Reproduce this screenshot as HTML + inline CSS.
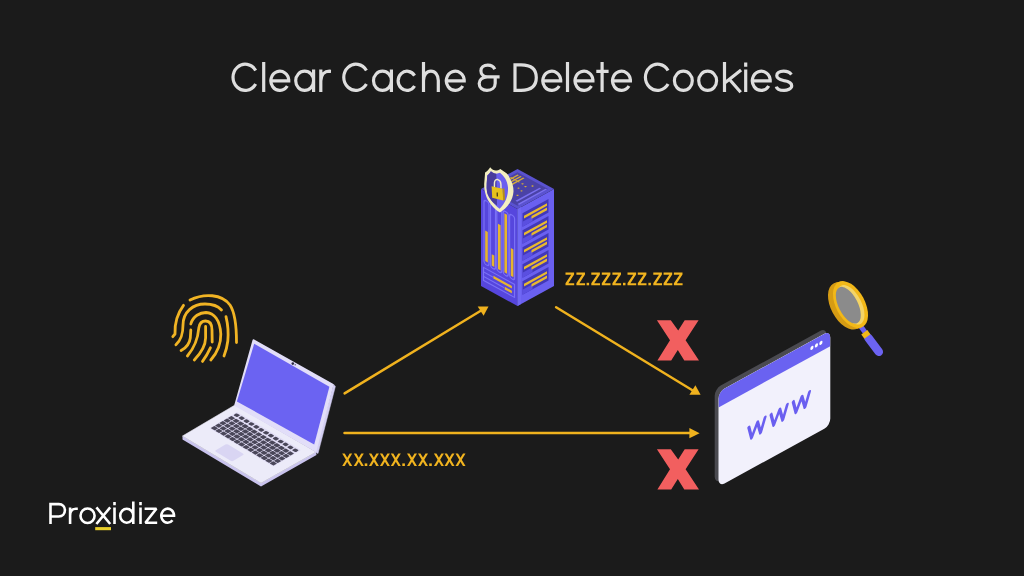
<!DOCTYPE html>
<html><head><meta charset="utf-8">
<style>
html,body{margin:0;padding:0;background:#1b1b1b;width:1024px;height:576px;overflow:hidden}
svg{position:absolute;left:0;top:0;display:block}
text{font-family:"Liberation Sans",sans-serif}
</style></head><body>
<svg width="1024" height="576" viewBox="0 0 1024 576">
<rect x="0" y="0" width="1024" height="576" fill="#1b1b1b"/>

<!-- Title -->
<path d="M255.66,84.05 A12.2,13.1 0 1 1 255.66,70.55 M263.70,62.00 L263.70,92.00 M270.85,80.8 L290.35,80.8 M287.31,86.03 A8.95,9.6 0 1 1 288.75,80.80 M313.60,80.8 A8.95,9.6 0 1 1 295.70,80.8 A8.95,9.6 0 1 1 313.60,80.8 M313.60,69.60 L313.60,92.00 M320.80,69.60 L320.80,92.00 M320.80,81.00 C321.10,74.5 324.80,71.2 329.30,71.2 L331.00,71.3 M366.41,84.05 A12.2,13.1 0 1 1 366.41,70.55 M391.40,80.8 A8.95,9.6 0 1 1 373.50,80.8 A8.95,9.6 0 1 1 391.40,80.8 M391.40,69.60 L391.40,92.00 M414.56,86.03 A8.95,9.6 0 1 1 414.56,75.57 M423.50,62.00 L423.50,92.00 M423.50,80.5 C423.50,74.8 426.70,71.2 430.90,71.2 C435.10,71.2 438.30,74.8 438.30,80.5 L438.30,92.0 M446.30,80.8 L465.80,80.8 M462.76,86.03 A8.95,9.6 0 1 1 464.20,80.80 M494.8,69.2 C493.5,66.5 490.8,65.2 487.8,65.2 C483.6,65.2 480.9,67.6 480.9,70.8 C480.9,74.2 483.6,76.8 487.2,76.8 L499.6,76.8 M487.2,76.8 C482.2,76.8 479.2,80.2 479.2,83.6 C479.2,87.6 482.4,90.3 487,90.3 C491.8,90.3 495.2,87.4 495.2,83.2 L495.2,75.2 M515.00,63.2 L515.00,92.0 M513.40,64.8 L521.00,64.8 C532.30,64.8 536.30,70.5 536.30,77.6 C536.30,84.7 532.30,90.4 521.00,90.4 L513.40,90.4 M542.80,80.8 L562.30,80.8 M559.26,86.03 A8.95,9.6 0 1 1 560.70,80.80 M567.50,62.00 L567.50,92.00 M575.00,80.8 L594.50,80.8 M591.46,86.03 A8.95,9.6 0 1 1 592.90,80.80 M602.10,62.00 L602.10,92.00 M596.30,71.4 L608.60,71.4 M612.50,80.8 L632.00,80.8 M628.96,86.03 A8.95,9.6 0 1 1 630.40,80.80 M668.06,84.05 A12.2,13.1 0 1 1 668.06,70.55 M692.30,80.8 A8.95,9.6 0 1 1 674.40,80.8 A8.95,9.6 0 1 1 692.30,80.8 M716.60,80.8 A8.95,9.6 0 1 1 698.70,80.8 A8.95,9.6 0 1 1 716.60,80.8 M724.50,62.00 L724.50,92.00 M725.00,82.8 L741.10,70.0 M729.10,79.0 L740.70,92.2 M745.70,69.60 L745.70,92.00 M745.70,62.6 L745.70,66.8 M752.30,80.8 L771.80,80.8 M768.76,86.03 A8.95,9.6 0 1 1 770.20,80.80 M791.40,74.6 C789.70,72.2 785.60,71.2 783.60,71.2 C779.00,71.2 776.60,73.2 776.80,75.8 C777.00,79 781.00,79.8 784.10,80.6 C789.20,81.4 791.80,82.8 791.70,86 C791.60,88.8 787.10,90.4 784.10,90.4 C779.00,90.4 776.80,88.8 776.30,86.6" fill="none" stroke="#dedede" stroke-width="3.2" stroke-linecap="butt"/>

<!-- Arrows -->
<g stroke="#f0b21e" stroke-width="2.5" fill="none" stroke-linecap="round">
  <line x1="344.6" y1="393.4" x2="482" y2="310"/>
  <line x1="556.1" y1="307.2" x2="692" y2="390"/>
  <line x1="344.5" y1="433" x2="690" y2="433"/>
</g>
<g fill="#f0b21e">
  <polygon points="477.7,306.5 488.5,306.5 483.6,315.8"/>
  <polygon points="689.4,394.7 700.6,394.7 695.4,385.3"/>
  <polygon points="689.4,428 689.4,438.3 699.6,433.2"/>
</g>

<!-- IP texts -->
<g fill="#f1b41f">
<polygon points="565.50,272.40 574.10,272.40 574.10,274.55 568.40,283.15 574.20,283.15 574.20,285.30 565.50,285.30 565.50,283.25 571.20,274.65 565.50,274.65"/>
<polygon points="576.40,272.40 585.00,272.40 585.00,274.55 579.30,283.15 585.10,283.15 585.10,285.30 576.40,285.30 576.40,283.25 582.10,274.65 576.40,274.65"/>
<polygon points="591.30,272.40 599.90,272.40 599.90,274.55 594.20,283.15 600.00,283.15 600.00,285.30 591.30,285.30 591.30,283.25 597.00,274.65 591.30,274.65"/>
<polygon points="601.80,272.40 610.40,272.40 610.40,274.55 604.70,283.15 610.50,283.15 610.50,285.30 601.80,285.30 601.80,283.25 607.50,274.65 601.80,274.65"/>
<polygon points="612.40,272.40 621.00,272.40 621.00,274.55 615.30,283.15 621.10,283.15 621.10,285.30 612.40,285.30 612.40,283.25 618.10,274.65 612.40,274.65"/>
<polygon points="627.50,272.40 636.10,272.40 636.10,274.55 630.40,283.15 636.20,283.15 636.20,285.30 627.50,285.30 627.50,283.25 633.20,274.65 627.50,274.65"/>
<polygon points="637.80,272.40 646.40,272.40 646.40,274.55 640.70,283.15 646.50,283.15 646.50,285.30 637.80,285.30 637.80,283.25 643.50,274.65 637.80,274.65"/>
<polygon points="653.30,272.40 661.90,272.40 661.90,274.55 656.20,283.15 662.00,283.15 662.00,285.30 653.30,285.30 653.30,283.25 659.00,274.65 653.30,274.65"/>
<polygon points="663.60,272.40 672.20,272.40 672.20,274.55 666.50,283.15 672.30,283.15 672.30,285.30 663.60,285.30 663.60,283.25 669.30,274.65 663.60,274.65"/>
<polygon points="673.90,272.40 682.50,272.40 682.50,274.55 676.80,283.15 682.60,283.15 682.60,285.30 673.90,285.30 673.90,283.25 679.60,274.65 673.90,274.65"/>
<rect x="586.60" y="282.80" width="2.5" height="2.5"/>
<rect x="623.00" y="282.80" width="2.5" height="2.5"/>
<rect x="648.40" y="282.80" width="2.5" height="2.5"/>
<polygon points="342.20,453.50 344.70,453.50 352.20,466.00 349.70,466.00"/><polygon points="349.70,453.50 352.20,453.50 344.70,466.00 342.20,466.00"/>
<polygon points="353.80,453.50 356.30,453.50 363.80,466.00 361.30,466.00"/><polygon points="361.30,453.50 363.80,453.50 356.30,466.00 353.80,466.00"/>
<polygon points="368.90,453.50 371.40,453.50 378.90,466.00 376.40,466.00"/><polygon points="376.40,453.50 378.90,453.50 371.40,466.00 368.90,466.00"/>
<polygon points="379.90,453.50 382.40,453.50 389.90,466.00 387.40,466.00"/><polygon points="387.40,453.50 389.90,453.50 382.40,466.00 379.90,466.00"/>
<polygon points="390.80,453.50 393.30,453.50 400.80,466.00 398.30,466.00"/><polygon points="398.30,453.50 400.80,453.50 393.30,466.00 390.80,466.00"/>
<polygon points="407.00,453.50 409.50,453.50 417.00,466.00 414.50,466.00"/><polygon points="414.50,453.50 417.00,453.50 409.50,466.00 407.00,466.00"/>
<polygon points="418.00,453.50 420.50,453.50 428.00,466.00 425.50,466.00"/><polygon points="425.50,453.50 428.00,453.50 420.50,466.00 418.00,466.00"/>
<polygon points="433.90,453.50 436.40,453.50 443.90,466.00 441.40,466.00"/><polygon points="441.40,453.50 443.90,453.50 436.40,466.00 433.90,466.00"/>
<polygon points="444.50,453.50 447.00,453.50 454.50,466.00 452.00,466.00"/><polygon points="452.00,453.50 454.50,453.50 447.00,466.00 444.50,466.00"/>
<polygon points="455.50,453.50 458.00,453.50 465.50,466.00 463.00,466.00"/><polygon points="463.00,453.50 465.50,453.50 458.00,466.00 455.50,466.00"/>
<rect x="364.70" y="463.40" width="2.6" height="2.6"/>
<rect x="402.30" y="463.40" width="2.6" height="2.6"/>
<rect x="429.20" y="463.40" width="2.6" height="2.6"/>
</g>

<!-- Red X marks -->
<g fill="#f25f5f">
  <polygon points="656.9,320.2 670.8,320.2 678.2,330.6 684.7,320.2 698.6,320.2 685.6,340.2 699,360.5 684.3,360.5 677.8,350.1 671.2,360.5 657.4,360.5 670,340.2"/>
  <polygon transform="translate(0,129)" points="656.9,320.2 670.8,320.2 678.2,330.6 684.7,320.2 698.6,320.2 685.6,340.2 699,360.5 684.3,360.5 677.8,350.1 671.2,360.5 657.4,360.5 670,340.2"/>
</g>

<!-- Fingerprint -->
<g stroke="#f1b424" stroke-width="2.8" fill="none" stroke-linecap="round" stroke-linejoin="round">
  <path d="M190,300 C204,293 222,294 230,305 C236,314 236.5,330 236.5,342.5"/>
  <path d="M183.5,305.3 C177,314 174.5,323 175,334 L172.8,336.7"/>
  <path d="M175.9,344.7 C181,340 183,335 183,325 C183,312 193,304 205,304 C212,304 218,306 221.5,310"/>
  <path d="M190.8,324 C193,316 200,312.5 206,312.5 C214,313 220,320 220.8,334 C221,344 217,353 210.8,360"/>
  <path d="M187.4,356 C195,347 198,338 198.8,328 C199.5,323 202,321 205.6,321 C210,321 212,324 212,330 L212.2,342"/>
  <path d="M205.6,326.5 L205.6,338 C205.5,346 201,353 194.3,360"/>
  <path d="M226,316.7 C228,325 228.5,334 227.8,341 C227,348 225.5,352 224,356"/>
  <path d="M190.8,330 L190.3,338 C189.5,344 186,348 181.1,350.6"/>
  <path d="M210.4,347.8 C208,353 205,358 202.5,361.4"/>
</g>

<!-- Laptop -->
<g>
  <!-- base side thickness -->
  <polygon points="182.5,436 261,483 316,452 316.5,455 261,486.5 182.5,439.5" fill="#c9c3ee"/>
  <!-- base top -->
  <polygon points="182.5,436 235,405 316,452 261,483" fill="#ecebf9" stroke="#ecebf9" stroke-width="0.6" stroke-linejoin="round"/>
  <g transform="matrix(0.98125,0.5875,0.875,-0.51667,182.5,436)">
    <rect x="6.9" y="23" width="65.2" height="31.5" rx="1" fill="#e1ddf5"/>
    <g fill="#4a4759">
      <rect x="7.50" y="23.85" width="4.01" height="4.16" rx="0.6"/>
      <rect x="12.11" y="23.85" width="4.01" height="4.16" rx="0.6"/>
      <rect x="16.73" y="23.85" width="4.01" height="4.16" rx="0.6"/>
      <rect x="21.34" y="23.85" width="4.01" height="4.16" rx="0.6"/>
      <rect x="25.96" y="23.85" width="4.01" height="4.16" rx="0.6"/>
      <rect x="30.57" y="23.85" width="4.01" height="4.16" rx="0.6"/>
      <rect x="35.19" y="23.85" width="4.01" height="4.16" rx="0.6"/>
      <rect x="39.80" y="23.85" width="4.01" height="4.16" rx="0.6"/>
      <rect x="44.41" y="23.85" width="4.01" height="4.16" rx="0.6"/>
      <rect x="49.03" y="23.85" width="4.01" height="4.16" rx="0.6"/>
      <rect x="53.64" y="23.85" width="4.01" height="4.16" rx="0.6"/>
      <rect x="58.26" y="23.85" width="4.01" height="4.16" rx="0.6"/>
      <rect x="62.87" y="23.85" width="4.01" height="4.16" rx="0.6"/>
      <rect x="67.49" y="23.85" width="4.01" height="4.16" rx="0.6"/>
      <rect x="7.50" y="28.71" width="4.01" height="4.16" rx="0.6"/>
      <rect x="12.11" y="28.71" width="4.01" height="4.16" rx="0.6"/>
      <rect x="16.73" y="28.71" width="4.01" height="4.16" rx="0.6"/>
      <rect x="21.34" y="28.71" width="4.01" height="4.16" rx="0.6"/>
      <rect x="25.96" y="28.71" width="4.01" height="4.16" rx="0.6"/>
      <rect x="30.57" y="28.71" width="4.01" height="4.16" rx="0.6"/>
      <rect x="35.19" y="28.71" width="4.01" height="4.16" rx="0.6"/>
      <rect x="39.80" y="28.71" width="4.01" height="4.16" rx="0.6"/>
      <rect x="44.41" y="28.71" width="4.01" height="4.16" rx="0.6"/>
      <rect x="49.03" y="28.71" width="4.01" height="4.16" rx="0.6"/>
      <rect x="53.64" y="28.71" width="4.01" height="4.16" rx="0.6"/>
      <rect x="58.26" y="28.71" width="4.01" height="4.16" rx="0.6"/>
      <rect x="62.87" y="28.71" width="4.01" height="4.16" rx="0.6"/>
      <rect x="67.49" y="28.71" width="4.01" height="4.16" rx="0.6"/>
      <rect x="7.50" y="33.57" width="4.01" height="4.16" rx="0.6"/>
      <rect x="12.11" y="33.57" width="4.01" height="4.16" rx="0.6"/>
      <rect x="16.73" y="33.57" width="4.01" height="4.16" rx="0.6"/>
      <rect x="21.34" y="33.57" width="4.01" height="4.16" rx="0.6"/>
      <rect x="25.96" y="33.57" width="4.01" height="4.16" rx="0.6"/>
      <rect x="30.57" y="33.57" width="4.01" height="4.16" rx="0.6"/>
      <rect x="35.19" y="33.57" width="4.01" height="4.16" rx="0.6"/>
      <rect x="39.80" y="33.57" width="4.01" height="4.16" rx="0.6"/>
      <rect x="44.41" y="33.57" width="4.01" height="4.16" rx="0.6"/>
      <rect x="49.03" y="33.57" width="4.01" height="4.16" rx="0.6"/>
      <rect x="53.64" y="33.57" width="4.01" height="4.16" rx="0.6"/>
      <rect x="58.26" y="33.57" width="4.01" height="4.16" rx="0.6"/>
      <rect x="62.87" y="33.57" width="4.01" height="4.16" rx="0.6"/>
      <rect x="67.49" y="33.57" width="4.01" height="4.16" rx="0.6"/>
      <rect x="7.50" y="38.43" width="4.01" height="4.16" rx="0.6"/>
      <rect x="12.11" y="38.43" width="4.01" height="4.16" rx="0.6"/>
      <rect x="16.73" y="38.43" width="4.01" height="4.16" rx="0.6"/>
      <rect x="21.34" y="38.43" width="4.01" height="4.16" rx="0.6"/>
      <rect x="25.96" y="38.43" width="4.01" height="4.16" rx="0.6"/>
      <rect x="30.57" y="38.43" width="4.01" height="4.16" rx="0.6"/>
      <rect x="35.19" y="38.43" width="4.01" height="4.16" rx="0.6"/>
      <rect x="39.80" y="38.43" width="4.01" height="4.16" rx="0.6"/>
      <rect x="44.41" y="38.43" width="4.01" height="4.16" rx="0.6"/>
      <rect x="49.03" y="38.43" width="4.01" height="4.16" rx="0.6"/>
      <rect x="53.64" y="38.43" width="4.01" height="4.16" rx="0.6"/>
      <rect x="58.26" y="38.43" width="4.01" height="4.16" rx="0.6"/>
      <rect x="62.87" y="38.43" width="4.01" height="4.16" rx="0.6"/>
      <rect x="67.49" y="38.43" width="4.01" height="4.16" rx="0.6"/>
      <rect x="7.50" y="43.29" width="4.01" height="4.16" rx="0.6"/>
      <rect x="12.11" y="43.29" width="4.01" height="4.16" rx="0.6"/>
      <rect x="16.73" y="43.29" width="4.01" height="4.16" rx="0.6"/>
      <rect x="21.34" y="43.29" width="4.01" height="4.16" rx="0.6"/>
      <rect x="25.96" y="43.29" width="4.01" height="4.16" rx="0.6"/>
      <rect x="30.57" y="43.29" width="4.01" height="4.16" rx="0.6"/>
      <rect x="35.19" y="43.29" width="4.01" height="4.16" rx="0.6"/>
      <rect x="39.80" y="43.29" width="4.01" height="4.16" rx="0.6"/>
      <rect x="44.41" y="43.29" width="4.01" height="4.16" rx="0.6"/>
      <rect x="49.03" y="43.29" width="4.01" height="4.16" rx="0.6"/>
      <rect x="53.64" y="43.29" width="4.01" height="4.16" rx="0.6"/>
      <rect x="58.26" y="43.29" width="4.01" height="4.16" rx="0.6"/>
      <rect x="62.87" y="43.29" width="4.01" height="4.16" rx="0.6"/>
      <rect x="67.49" y="43.29" width="4.01" height="4.16" rx="0.6"/>
      <rect x="7.80" y="49.3" width="3.77" height="3.8" rx="0.9"/>
      <rect x="12.77" y="49.3" width="3.77" height="3.8" rx="0.9"/>
      <rect x="17.74" y="49.3" width="3.77" height="3.8" rx="0.9"/>
      <rect x="22.71" y="49.3" width="3.77" height="3.8" rx="0.9"/>
      <rect x="27.68" y="49.3" width="3.77" height="3.8" rx="0.9"/>
      <rect x="32.65" y="49.3" width="3.77" height="3.8" rx="0.9"/>
      <rect x="37.62" y="49.3" width="3.77" height="3.8" rx="0.9"/>
      <rect x="42.58" y="49.3" width="3.77" height="3.8" rx="0.9"/>
      <rect x="47.55" y="49.3" width="3.77" height="3.8" rx="0.9"/>
      <rect x="52.52" y="49.3" width="3.77" height="3.8" rx="0.9"/>
      <rect x="57.49" y="49.3" width="3.77" height="3.8" rx="0.9"/>
      <rect x="62.46" y="49.3" width="3.77" height="3.8" rx="0.9"/>
      <rect x="67.43" y="49.3" width="3.77" height="3.8" rx="0.9"/>
    </g>
    <rect x="29" y="4" width="18" height="14" rx="1.5" fill="#d9d5f3"/>
  </g>
  <!-- lid -->
  <polygon points="333.5,384.2 335.4,386.4 318,453.5 315,452" fill="#d3cef2" stroke="#d3cef2" stroke-width="0.5"/>
  <polygon points="253.6,340.4 332.4,384.8 315.4,450.6 235.4,405" fill="#e2def9" stroke="#e2def9" stroke-width="2.2" stroke-linejoin="round"/>
  <polygon points="254.2,343.8 329.4,386.8 314.2,444.5 236.9,401.5" fill="#6b63f2"/>
  <circle cx="292.8" cy="363.6" r="1.3" fill="#2a2740"/>
  <circle cx="295.2" cy="364.8" r="0.7" fill="#5a5570"/>
</g>

<!-- Server -->
<g>
  <!-- left face -->
  <polygon points="481,189 517.5,209 517.5,306 481,286" fill="#5646dd"/>
  <!-- right face -->
  <polygon points="517.5,209 554,189 554,286 517.5,306" fill="#6a60f0"/>
  <!-- top face -->
  <polygon points="517.5,169 554,189 517.5,209 481,189" fill="#5a52d0"/>
  <g transform="matrix(1,0.548,-1,0.548,517.5,169)">
    <rect x="3" y="3" width="30.5" height="30.5" fill="#4a42a6"/>
    <rect x="28" y="6" width="1.6" height="24" fill="#7a70f0"/>
    <rect x="32" y="4" width="1.6" height="28" fill="#7a70f0"/>
    <g fill="#d4ac38">
      <rect x="5" y="5" width="1.4" height="12"/>
      <rect x="7.8" y="5" width="1.4" height="12"/>
      <rect x="10.6" y="5" width="1.4" height="12"/>
      <rect x="4" y="10.5" width="9" height="1.1"/>
      <circle cx="14" cy="20" r="0.8"/><circle cx="18" cy="17" r="0.8"/><circle cx="20" cy="12" r="0.8"/>
      <circle cx="22" cy="18" r="0.8"/><circle cx="17" cy="24" r="0.8"/><circle cx="23" cy="8" r="0.8"/>
      <circle cx="24" cy="24" r="0.8"/><circle cx="13" cy="27" r="0.8"/><circle cx="16" cy="11" r="0.8"/>
    </g>
  </g>
  <!-- right face panels -->
  <g transform="matrix(1,-0.548,0,1,517.5,209)">
    <rect x="0" y="0" width="3.5" height="97" fill="#7068f4"/>
    <g id="panel">
      <rect x="5" y="7" width="26" height="13.5" fill="#4238b8"/>
      <rect x="5" y="15.5" width="10" height="5" fill="#5a4fe0"/>
      <rect x="6.5" y="10.3" width="23" height="2.7" fill="#e8b92e"/>
      <rect x="14" y="14.6" width="15.5" height="2.7" fill="#e8b92e"/>
    </g>
    <use href="#panel" y="17"/>
    <use href="#panel" y="34"/>
    <use href="#panel" y="51"/>
    <use href="#panel" y="68"/>
  </g>
  <!-- left face details -->
  <g transform="matrix(1,0.548,0,1,481,189)">
    <g fill="none" stroke="#7a70f6" stroke-width="1.2">
      <rect x="3" y="9" width="5" height="64" rx="2.5"/>
      <rect x="9.5" y="9" width="5" height="64" rx="2.5"/>
      <rect x="15.8" y="9" width="5" height="64" rx="2.5"/>
      <rect x="22.2" y="9" width="5" height="64" rx="2.5"/>
      <rect x="28.6" y="9" width="5" height="64" rx="2.5"/>
      <rect x="2.5" y="77" width="31" height="13"/>
      <line x1="3" y1="81.5" x2="12" y2="81.5"/>
      <line x1="3" y1="86" x2="23" y2="86"/>
    </g>
    <g fill="#e6b52e">
      <rect x="4.2" y="39.3" width="2.6" height="30.5"/>
      <rect x="10.7" y="59.3" width="2.6" height="11.3"/>
      <rect x="17" y="25.4" width="2.6" height="45.3"/>
      <rect x="23.4" y="11.4" width="2.6" height="59.1"/>
      <rect x="29.8" y="42.7" width="2.6" height="27.8"/>
      <rect x="12.4" y="80" width="18.5" height="2.6"/>
      <rect x="23.7" y="84.8" width="7.2" height="2.6"/>
    </g>
  </g>
  <!-- shield -->
  <path d="M490.2,167.2 C492,169.3 493.8,170.4 495.7,170.6 C497.3,170.5 498.8,169.8 500.3,168.9 C502.5,170.5 504.8,172 506.8,173.6 C508.6,175.5 509.8,177.6 510.6,180 C512.6,183.5 513.6,187.5 513.5,191.5 C513.2,196 511.8,199.8 509.5,203.2 C507,207 503.6,210 500,212.6 C496.4,210.6 493.5,207.8 491.2,204.8 C488.6,201.6 486.5,198 485.6,194.3 C484.5,190.6 484.1,187 484.2,183.8 L485.1,172.4 C487.2,171.2 488.9,169.5 490.2,167.2 Z" fill="#f3eec0"/>
  <path d="M490.9,171.3 C492.6,172.8 494.5,173.6 496.3,173.7 C497.6,173.6 498.8,173.3 500,172.8 C501.8,174.5 503.6,176.2 505,178.2 C506.6,180.8 507.7,184 508,187.5 C508.2,191.5 507.6,195.5 506,199.5 C504.5,203 502.2,206 499.6,208.8 C496.6,206.6 493.8,203.8 491.4,200.6 C489.4,198 487.8,195.4 487.1,192.6 C486.6,189.5 486.5,186.4 486.7,183.5 L487.3,175.4 C488.8,174.5 490,173 490.9,171.3 Z" fill="#6a5fef"/>
  <path d="M490.9,171.3 C492.6,172.8 494.5,173.6 496.3,173.7 L497,205.5 C495,204.2 493,202.5 491.4,200.6 C489.4,198 487.8,195.4 487.1,192.6 C486.6,189.5 486.5,186.4 486.7,183.5 L487.3,175.4 C488.8,174.5 490,173 490.9,171.3 Z" fill="#493c9c"/>
  <path d="M494.4,187 L494.5,182.6 C494.7,180 496.2,179.3 497.8,179.6 C499.6,180.1 500.8,181.8 500.9,184.2 L501,188.5" fill="none" stroke="#eeeacc" stroke-width="1.5"/>
  <polygon points="491.6,186.2 502.6,188.8 503.2,200.6 492.2,197.8" fill="#e7c21c"/>
  <polygon points="502.6,188.8 504.4,188.3 505,200 503.2,200.6" fill="#b58f10"/>
  <line x1="497.2" y1="192.6" x2="497.3" y2="196.6" stroke="#3a3012" stroke-width="1.2"/>
</g>

<!-- Browser window -->
<g>
  <g transform="translate(-3.8,-3.0) matrix(1,-0.548,0,1,718.5,391.8)">
    <rect x="0" y="0" width="111.8" height="95" rx="6" ry="7" fill="#4a4a50"/>
  </g>
  <g transform="matrix(1,-0.548,0,1,718.5,391.8)">
    <clipPath id="bclip"><rect x="0" y="0" width="111.8" height="95" rx="6" ry="7"/></clipPath>
    <rect x="0" y="0" width="111.8" height="95" rx="6" ry="7" fill="#f2f1fc"/>
    <rect x="0" y="0" width="111.8" height="15.6" fill="#6a62f1" clip-path="url(#bclip)"/>
    <g fill="#ffffff">
      <ellipse cx="93.4" cy="7.2" rx="1.6" ry="1.9"/>
      <ellipse cx="97.9" cy="7.2" rx="1.6" ry="1.9"/>
      <ellipse cx="102.4" cy="7.2" rx="1.6" ry="1.9"/>
    </g>
    <g stroke="#6a5ff0" stroke-width="3" fill="none" stroke-linecap="round" stroke-linejoin="round">
      <path d="M30.3,52 L33.1,64.3 L39,51.6 L42.1,64.1 L46.6,51"/>
      <path transform="translate(22.2,-0.6)" d="M30.3,52 L33.1,64.3 L39,51.6 L42.1,64.1 L46.6,51"/>
      <path transform="translate(44.4,-1.2)" d="M30.3,52 L33.1,64.3 L39,51.6 L42.1,64.1 L46.6,51"/>
    </g>
  </g>
</g>

<!-- Magnifier -->
<g>
  <line x1="860.5" y1="326" x2="866" y2="333.5" stroke="#6a60f0" stroke-width="5" stroke-linecap="round"/>
  <line x1="868.5" y1="338" x2="878.8" y2="351.8" stroke="#6c63f2" stroke-width="8.5" stroke-linecap="round"/>
  <line x1="864.3" y1="332.2" x2="867.4" y2="336.4" stroke="#f0b818" stroke-width="7.5"/>
  <g fill="#d69c14">
    <ellipse cx="845.5" cy="306" rx="25.5" ry="14.5" transform="rotate(62 845.5 306)"/>
    <ellipse cx="847" cy="305.6" rx="25.5" ry="14.5" transform="rotate(62 847 305.6)"/>
    <ellipse cx="848.5" cy="305.2" rx="25.5" ry="14.5" transform="rotate(62 848.5 305.2)"/>
  </g>
  <ellipse cx="850.5" cy="304.6" rx="25.5" ry="14.5" transform="rotate(62 850.5 304.6)" fill="#f2b818"/>
  <ellipse cx="850.8" cy="304.8" rx="21.5" ry="10.8" transform="rotate(63 850.8 304.8)" fill="#f4d466"/>
  <ellipse cx="848.3" cy="305.2" rx="20" ry="9.6" transform="rotate(63 848.3 305.2)" fill="#8b8b8b"/>
</g>

<!-- Logo -->
<path d="M50.5,502.8 L50.5,524 M49.2,504.1 L58.8,504.1 C62.6,504.1 64.9,506.9 64.9,510.3 C64.9,513.7 62.6,516.5 58.8,516.5 L50.5,516.5 M70.1,507.4 L70.1,524 M70.1,515.5 C70.1,511.2 72.4,508.7 75.8,508.7 L77.8,508.7 M94.60,515.75 A7.05,7.2 0 1 1 80.50,515.75 A7.05,7.2 0 1 1 94.60,515.75 M96.4,507.4 L110.2,524 M110.2,507.4 L96.4,524 M114.5,507.4 L114.5,524 M114.5,502.1 L114.5,505.2 M133.30,515.75 A6.55,7.05 0 1 1 120.20,515.75 A6.55,7.05 0 1 1 133.30,515.75 M133.3,501.4 L133.3,524 M140.5,507.4 L140.5,524 M140.5,502.1 L140.5,505.2 M144.6,508.7 L156.4,508.7 L145.4,522.7 L157.2,522.7 M161.3,515.75 L175.3,515.75 M172.51,520.28 A6.35,7.05 0 1 1 174.00,515.75" fill="none" stroke="#ffffff" stroke-width="2.6" stroke-linecap="butt" stroke-linejoin="bevel"/>
<rect x="95.2" y="527.1" width="15.8" height="3.1" fill="#e9cf2b"/>
</svg>
</body></html>
